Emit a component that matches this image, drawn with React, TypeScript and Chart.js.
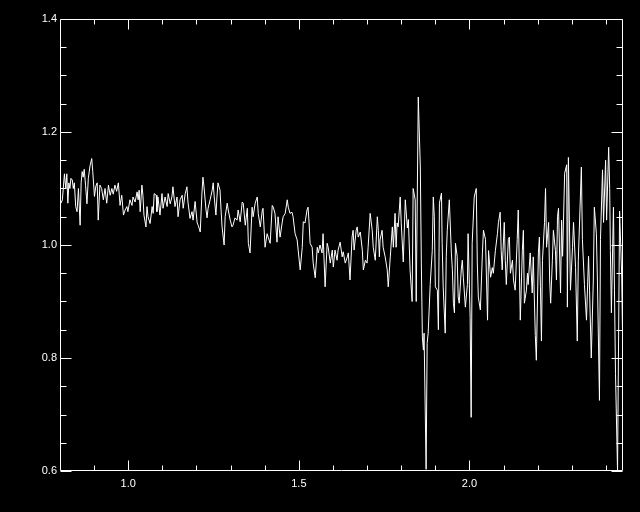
import { useEffect, useRef } from "react";
import { Chart, registerables } from "chart.js";

Chart.register(...registerables);

// Wavelength (x) and normalised flux (y).
const WAVE = [
  0.803, 0.807, 0.813, 0.817, 0.82, 0.823, 0.826, 0.829, 0.832, 0.836,
  0.839, 0.842, 0.846, 0.85, 0.854, 0.859, 0.862, 0.865, 0.868, 0.871,
  0.875, 0.879, 0.883, 0.888, 0.893, 0.896, 0.901, 0.905, 0.909, 0.912,
  0.917, 0.922, 0.927, 0.932, 0.937, 0.942, 0.947, 0.952, 0.956, 0.961,
  0.966, 0.971, 0.976, 0.981, 0.986,
  0.991, 0.996, 0.999, 1.005, 1.011, 1.014, 1.02, 1.026, 1.029, 1.032,
  1.035, 1.04, 1.043, 1.046, 1.052, 1.055, 1.058, 1.064, 1.07, 1.073,
  1.076, 1.082, 1.084, 1.087, 1.093, 1.099, 1.102, 1.108, 1.114, 1.117,
  1.123, 1.128, 1.131, 1.137, 1.143, 1.146, 1.152, 1.158, 1.161, 1.167,
  1.172, 1.175, 1.181, 1.187, 1.19,
  1.196, 1.202, 1.205, 1.211, 1.216, 1.219, 1.222, 1.228, 1.231, 1.234,
  1.24, 1.246, 1.249, 1.252, 1.257, 1.26, 1.263, 1.269, 1.272, 1.275,
  1.281, 1.284, 1.29, 1.293, 1.299, 1.304, 1.307, 1.313, 1.319, 1.322,
  1.328, 1.334, 1.337, 1.343, 1.349, 1.352, 1.357, 1.363, 1.366, 1.372,
  1.378, 1.381, 1.387, 1.393, 1.395,
  1.401, 1.407, 1.41, 1.416, 1.422, 1.425, 1.43, 1.436, 1.439, 1.445,
  1.451, 1.454, 1.46, 1.466, 1.469, 1.474, 1.48, 1.483, 1.489, 1.495,
  1.498, 1.504, 1.51, 1.513, 1.518, 1.524, 1.527, 1.53, 1.533, 1.539,
  1.542, 1.548, 1.554, 1.557, 1.562, 1.568, 1.571, 1.577, 1.583, 1.586,
  1.592, 1.598, 1.601,
  1.606, 1.612, 1.615, 1.621, 1.627, 1.63, 1.636, 1.642, 1.645, 1.65,
  1.656, 1.659, 1.662, 1.668, 1.671, 1.674, 1.68, 1.686, 1.689, 1.695,
  1.7, 1.703, 1.709, 1.715, 1.718, 1.724, 1.73, 1.733, 1.736, 1.738,
  1.744, 1.747, 1.753, 1.759, 1.762, 1.768, 1.774, 1.777, 1.782, 1.785,
  1.788, 1.791,
  1.797, 1.8, 1.806, 1.812, 1.818, 1.821, 1.826, 1.832, 1.835, 1.841,
  1.844, 1.85, 1.856, 1.859, 1.862, 1.865, 1.867, 1.873, 1.876, 1.879,
  1.885, 1.891, 1.894, 1.897, 1.9, 1.906, 1.909, 1.912, 1.918, 1.92,
  1.923, 1.929, 1.932, 1.935, 1.941, 1.947, 1.95, 1.953, 1.956, 1.959,
  1.964, 1.967, 1.97, 1.976, 1.979, 1.982, 1.988, 1.994,
  1.996, 2.002, 2.005, 2.008, 2.014, 2.02, 2.023, 2.026, 2.032, 2.038,
  2.041, 2.047, 2.053, 2.056, 2.062, 2.067, 2.07, 2.076, 2.082, 2.085,
  2.09, 2.093, 2.096, 2.102, 2.105, 2.108, 2.114, 2.117, 2.12, 2.126,
  2.129, 2.134, 2.14, 2.143, 2.146, 2.149, 2.155, 2.158, 2.161, 2.167,
  2.17, 2.172, 2.178, 2.184, 2.187,
  2.193, 2.196, 2.202, 2.205, 2.208, 2.211, 2.214, 2.22, 2.223, 2.226,
  2.232, 2.235, 2.238, 2.243, 2.246, 2.252, 2.255, 2.258, 2.261, 2.267,
  2.27, 2.273, 2.279, 2.285, 2.287, 2.29, 2.296, 2.302, 2.305, 2.311,
  2.316, 2.319, 2.328, 2.331, 2.337, 2.343, 2.349, 2.352, 2.357, 2.363,
  2.366, 2.372, 2.375, 2.381, 2.384, 2.39, 2.393, 2.399, 2.402, 2.408,
  2.411, 2.413, 2.416, 2.422, 2.425, 2.428, 2.434, 2.44, 2.446, 2.451,
];

const FLUX = [
  1.074, 1.08, 1.126, 1.1, 1.126, 1.074, 1.11, 1.1, 1.118, 1.115,
  1.1, 1.11, 1.068, 1.059, 1.1, 1.035, 1.11, 1.13, 1.12, 1.134,
  1.105, 1.073, 1.118, 1.14, 1.153, 1.13, 1.086, 1.104, 1.11, 1.044,
  1.106, 1.1, 1.08, 1.1, 1.074, 1.106, 1.088, 1.1, 1.09, 1.106,
  1.095, 1.11, 1.07, 1.088, 1.053,
  1.062, 1.068, 1.059, 1.08, 1.07, 1.085, 1.076, 1.094, 1.08, 1.097,
  1.059, 1.106, 1.088, 1.053, 1.032, 1.068, 1.05, 1.038, 1.068, 1.056,
  1.091, 1.088, 1.059, 1.085, 1.053, 1.091, 1.065, 1.085, 1.068, 1.091,
  1.073, 1.085, 1.103, 1.068, 1.085, 1.05, 1.08, 1.088, 1.065, 1.091,
  1.103, 1.076, 1.047, 1.059, 1.044,
  1.077, 1.039, 1.035, 1.023, 1.092, 1.12, 1.103, 1.062, 1.048, 1.065,
  1.08, 1.097, 1.11, 1.085, 1.053, 1.085, 1.11, 1.097, 1.062, 1.032,
  1.0, 1.05, 1.074, 1.062, 1.044, 1.032, 1.035, 1.048, 1.044, 1.062,
  1.041, 1.076, 1.074, 1.035, 1.065, 1.003, 0.986, 1.067, 1.05, 1.074,
  1.085, 1.056, 1.032, 1.062, 1.065,
  0.996, 1.02, 1.014, 1.003, 1.07, 1.067, 1.056, 1.005, 1.05, 1.014,
  1.039, 1.05, 1.056, 1.08, 1.067, 1.056, 1.058, 1.05, 1.02, 1.009,
  0.991, 0.956, 0.996, 1.041, 1.039, 1.062, 1.067, 1.039, 1.003, 0.996,
  0.968, 0.942, 0.996, 0.986, 1.0, 0.986, 1.02, 0.926, 1.003, 0.996,
  0.968, 0.991, 0.961,
  0.991, 0.973, 0.991, 1.005, 0.979, 0.988, 0.968, 0.979, 0.986, 0.938,
  1.014, 1.026, 0.991, 1.026, 1.032, 1.014, 1.023, 0.991, 0.956, 0.973,
  0.968, 0.996, 1.056, 1.026, 0.996, 0.973, 1.05, 1.026, 0.979, 1.009,
  1.026, 0.996, 0.979, 0.956, 0.926, 0.979, 1.032, 0.996, 1.056, 0.996,
  1.039, 1.032,
  1.085, 1.04, 0.97, 1.08, 1.03, 1.045, 0.956, 0.9, 1.1, 1.08,
  0.9, 1.262, 1.138, 0.968, 0.837, 0.814, 0.844, 0.603, 0.826, 0.844,
  0.93, 0.99, 1.085, 1.05, 0.926, 0.92, 0.85, 1.074, 1.092, 1.003,
  0.926, 0.844, 0.98, 1.026, 1.08, 0.986, 0.956, 0.897, 0.88, 1.003,
  0.98, 0.908, 0.897, 0.956, 0.973, 0.943, 0.89, 0.93,
  1.02, 0.872, 0.695, 1.003, 1.085, 1.1, 0.968, 0.908, 0.885, 0.986,
  1.026, 1.01, 0.867, 0.99, 0.943, 0.96, 0.95, 0.99, 1.02, 1.04,
  1.058, 0.99, 0.956, 1.04, 0.973, 0.93, 1.01, 1.014, 0.95, 0.973,
  0.938, 0.92, 1.01, 1.062, 0.968, 0.867, 0.99, 1.026, 0.897, 0.92,
  0.95, 0.93, 0.986, 0.915, 0.979,
  0.84, 0.796, 0.986, 1.014, 0.926, 0.83, 0.973, 1.04, 1.1, 0.996,
  1.04, 0.938, 0.897, 0.973, 1.026, 0.99, 0.938, 1.05, 1.065, 0.915,
  1.044, 0.98, 1.127, 1.142, 0.89, 1.155, 0.92, 0.996, 1.04, 0.96,
  0.83, 0.973, 1.138, 1.01, 0.93, 0.867, 0.98, 0.92, 0.8, 0.938,
  1.067, 1.02, 0.938, 0.725, 1.01, 1.133, 1.04, 1.15, 1.044, 1.173,
  1.1, 0.99, 0.88, 1.067, 0.92, 0.773, 0.6, 1.06, 0.95, 0.75,
];

const X_MIN = 0.8;
const X_MAX = 2.45;
const Y_MIN = 0.6;
const Y_MAX = 1.4;
const X_TICKS = [1.0, 1.5, 2.0];
const Y_TICKS = [0.6, 0.8, 1.0, 1.2, 1.4];
const X_MINOR = [0.9, 1.0, 1.1, 1.2, 1.3, 1.4, 1.5, 1.6, 1.7, 1.8, 1.9, 2.0, 2.1, 2.2, 2.3, 2.4];
const Y_MINOR = [0.65, 0.7, 0.75, 0.85, 0.9, 0.95, 1.05, 1.1, 1.15, 1.25, 1.3, 1.35];

const FG = "#ffffff";
const BG = "#000000";
const FONT = { family: "'Liberation Sans', Arial, Helvetica, sans-serif", size: 11 };

const framePlugin = {
  id: "idlFrame",
  beforeDraw(chart: any) {
    const { ctx, width, height } = chart;
    ctx.save();
    ctx.fillStyle = BG;
    ctx.fillRect(0, 0, width, height);
    ctx.restore();
  },
  afterDraw(chart: any) {
    const { ctx, chartArea: a, scales } = chart;
    const xs = scales.x;
    const ys = scales.y;
    const L = Math.round(a.left) + 0.5;
    const R = Math.round(a.right) - 0.5;
    const T = Math.round(a.top) + 0.5;
    const B = Math.round(a.bottom) - 0.5;
    ctx.save();
    ctx.strokeStyle = FG;
    ctx.lineWidth = 1;
    ctx.beginPath();
    ctx.rect(L, T, R - L, B - T);
    const xMajorSet = new Set(X_TICKS.map((v) => v.toFixed(2)));
    X_MINOR.forEach((v) => {
      const len = xMajorSet.has(v.toFixed(2)) ? 10 : 5;
      const px = Math.round(xs.getPixelForValue(v)) + 0.5;
      ctx.moveTo(px, B);
      ctx.lineTo(px, B - len);
      ctx.moveTo(px, T);
      ctx.lineTo(px, T + len);
    });
    const drawY = (v: number, len: number) => {
      const py = Math.round(ys.getPixelForValue(v)) + 0.5;
      ctx.moveTo(L, py);
      ctx.lineTo(L + len, py);
      ctx.moveTo(R, py);
      ctx.lineTo(R - len, py);
    };
    Y_MINOR.forEach((v) => drawY(v, 6));
    Y_TICKS.forEach((v) => drawY(v, 11));
    ctx.stroke();
    ctx.restore();
  },
};

export default function App() {
  const canvasRef = useRef<HTMLCanvasElement | null>(null);

  useEffect(() => {
    const canvas = canvasRef.current;
    if (!canvas) return;
    const n = Math.min(WAVE.length, FLUX.length);
    const points = [];
    for (let i = 0; i < n; i++) points.push({ x: WAVE[i], y: FLUX[i] });

    const chart = new Chart(canvas, {
      type: "line",
      data: {
        datasets: [
          {
            data: points,
            borderColor: FG,
            borderWidth: 1,
            pointRadius: 0,
            tension: 0,
            fill: false,
          },
        ],
      },
      options: {
        animation: false,
        responsive: false,
        maintainAspectRatio: false,
        parsing: false as any,
        normalized: true,
        layout: { padding: { top: 19, right: 17, left: 0, bottom: 0 } },
        plugins: {
          legend: { display: false },
          tooltip: { enabled: false },
          title: { display: false },
        },
        scales: {
          x: {
            type: "linear",
            min: X_MIN,
            max: X_MAX,
            grid: { display: false, drawTicks: false },
            border: { display: false },
            afterBuildTicks: (s: any) => {
              s.ticks = X_TICKS.map((v) => ({ value: v }));
            },
            afterFit: (s: any) => {
              s.height = 41;
            },
            ticks: {
              color: FG,
              font: FONT,
              padding: 6,
              maxRotation: 0,
              autoSkip: false,
              callback: (v: any) => Number(v).toFixed(1),
            },
          },
          y: {
            type: "linear",
            min: Y_MIN,
            max: Y_MAX,
            grid: { display: false, drawTicks: false },
            border: { display: false },
            afterBuildTicks: (s: any) => {
              s.ticks = Y_TICKS.map((v) => ({ value: v }));
            },
            afterFit: (s: any) => {
              s.width = 60;
            },
            ticks: {
              color: FG,
              font: FONT,
              padding: 3,
              autoSkip: false,
              callback: (v: any) => Number(v).toFixed(1),
            },
          },
        },
      },
      plugins: [framePlugin],
    });
    return () => chart.destroy();
  }, []);

  return (
    <div
      style={{
        position: "fixed",
        left: 0,
        top: 0,
        width: 640,
        height: 512,
        background: BG,
      }}
    >
      <canvas ref={canvasRef} width={640} height={512} style={{ display: "block" }} />
    </div>
  );
}
